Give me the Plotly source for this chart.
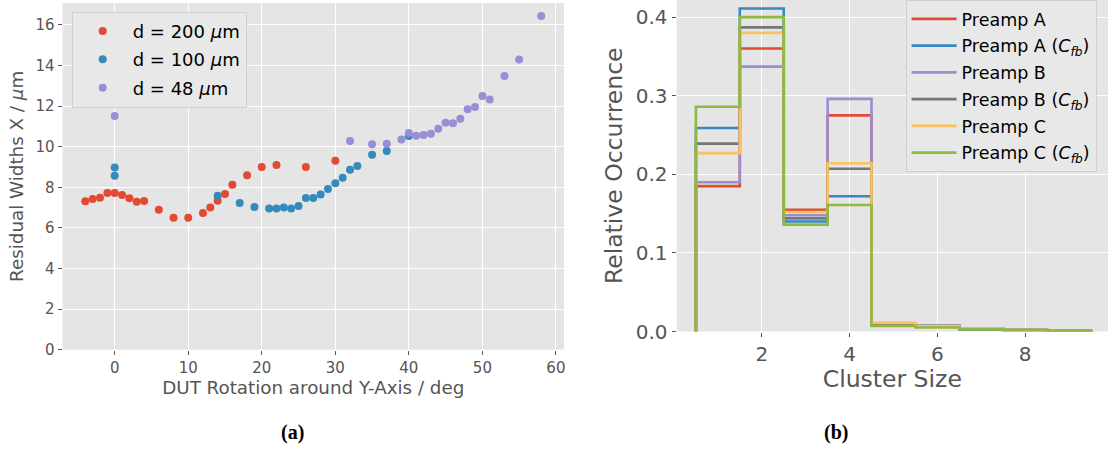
import plotly.graph_objects as go

# ---------------- data: panel (a) ----------------
red_x = [-4, -3, -2, -1, 0, 1, 2, 3, 4, 6, 8, 10, 12, 13, 14, 15, 16, 18, 20, 22, 26, 30]
red_y = [7.31, 7.42, 7.49, 7.72, 7.72, 7.62, 7.46, 7.29, 7.32, 6.90, 6.50, 6.50, 6.73, 7.01,
         7.34, 7.67, 8.13, 8.59, 9.00, 9.10, 9.00, 9.31]
blue_x = [0, 0, 14, 17, 19, 21, 22, 23, 24, 25, 26, 27, 28, 29, 30, 31, 32, 33, 35, 37, 40]
blue_y = [8.98, 8.57, 7.59, 7.23, 7.03, 6.95, 6.95, 7.00, 6.95, 7.08, 7.47, 7.47, 7.64, 7.92,
          8.20, 8.47, 8.87, 9.05, 9.60, 9.79, 10.53]
purple_x = [0, 32, 35, 37, 39, 40, 41, 42, 43, 44, 45, 46, 47, 48, 49, 50, 51, 53, 55, 58]
purple_y = [11.51, 10.28, 10.12, 10.15, 10.35, 10.67, 10.54, 10.58, 10.64, 10.89, 11.18, 11.15,
            11.38, 11.84, 11.96, 12.50, 12.33, 13.48, 14.30, 16.44]
series_a_names = ["d = 200 <i>μ</i>m", "d = 100 <i>μ</i>m", "d = 48 <i>μ</i>m"]

# ---------------- data: panel (b) ----------------
bin_edges = [0.5, 1.5, 2.5, 3.5, 4.5, 5.5, 6.5, 7.5, 8.5, 9.5]
preamp_a = [0.185, 0.360, 0.155, 0.275, 0.009, 0.007, 0.004, 0.002, 0.001]
preamp_a_cfb = [0.259, 0.411, 0.140, 0.172, 0.008, 0.006, 0.003, 0.002, 0.001]
preamp_b = [0.190, 0.337, 0.148, 0.296, 0.010, 0.008, 0.004, 0.002, 0.001]
preamp_b_cfb = [0.239, 0.387, 0.144, 0.207, 0.009, 0.007, 0.003, 0.002, 0.001]
preamp_c = [0.227, 0.380, 0.152, 0.214, 0.011, 0.007, 0.004, 0.002, 0.001]
preamp_c_cfb = [0.286, 0.400, 0.136, 0.161, 0.007, 0.005, 0.003, 0.002, 0.001]
hist_names = ["Preamp A", "Preamp A (<i>C</i><sub><i>fb</i></sub>)", "Preamp B",
              "Preamp B (<i>C</i><sub><i>fb</i></sub>)", "Preamp C",
              "Preamp C (<i>C</i><sub><i>fb</i></sub>)"]

colors = ["#E24A33", "#348ABD", "#988ED5", "#777777", "#FBC15E", "#8EBA42"]
FONT = "DejaVu Sans"
TXT = "#555555"

fig = go.Figure()

for i, (xs, ys, name, col) in enumerate(zip([red_x, blue_x, purple_x], [red_y, blue_y, purple_y],
                                            series_a_names, colors[:3])):
    fig.add_trace(go.Scatter(x=xs, y=ys, mode="markers", name=name,
                             marker=dict(color=col, size=8, line=dict(width=0)),
                             legendgroup=f"a{i}",
                             xaxis="x", yaxis="y", legend="legend"))

for i, (vals, name, col) in enumerate(zip([preamp_a, preamp_a_cfb, preamp_b, preamp_b_cfb,
                                           preamp_c, preamp_c_cfb], hist_names, colors)):
    xs = [bin_edges[0]] + bin_edges[:-1] + [bin_edges[-1], bin_edges[-1]]
    ys = [0] + vals + [vals[-1], 0]
    fig.add_trace(go.Scatter(x=xs, y=ys, mode="lines", name=name,
                             line=dict(color=col, width=2.6, shape="hv"),
                             legendgroup=f"b{i}",
                             xaxis="x2", yaxis="y2", legend="legend2"))

W, H = 1108, 450
axis_common = dict(showgrid=True, gridcolor="white", gridwidth=1.2, zeroline=False,
                   showline=False, ticks="outside", ticklen=4, tickcolor=TXT, automargin=False)

fig.update_layout(
    width=W, height=H,
    margin=dict(l=0, r=0, t=0, b=0),
    paper_bgcolor="white", plot_bgcolor="#E5E5E5",
    font=dict(family=FONT, color=TXT),
    xaxis=dict(domain=[62.5 / W, 564 / W], range=[-7.1, 61.1], tickvals=[0, 10, 20, 30, 40, 50, 60],
               title=dict(text="DUT Rotation around Y-Axis / deg", font=dict(size=18.3, color=TXT), standoff=2),
               anchor="y", tickfont=dict(family=FONT, color=TXT, size=15), **axis_common),
    yaxis=dict(domain=[(H - 349.7) / H, (H - 3) / H], range=[0, 17.08], tickvals=list(range(0, 17, 2)),
               title=dict(text="Residual Widths X / <i>μ</i>m", font=dict(size=18.3, color=TXT), standoff=6),
               anchor="x", tickfont=dict(family=FONT, color=TXT, size=15), **axis_common),
    xaxis2=dict(domain=[676.6 / W, 1.0], range=[0.06, 9.886], tickvals=[2, 4, 6, 8],
                title=dict(text="Cluster Size", font=dict(size=23.5, color=TXT), standoff=2),
                anchor="y2", tickfont=dict(family=FONT, color=TXT, size=20), **axis_common),
    yaxis2=dict(domain=[(H - 331.5) / H, 1.0], range=[0, 0.4218], tickvals=[0, 0.1, 0.2, 0.3, 0.4],
                tickformat=".1f",
                title=dict(text="Relative Occurrence", font=dict(size=23.5, color=TXT), standoff=6),
                anchor="x2", tickfont=dict(family=FONT, color=TXT, size=20), **axis_common),
    legend=dict(x=71.7 / W, y=1 - 11.7 / H, xanchor="left", yanchor="top",
                bgcolor="#E8E8E8", bordercolor="#D0D0D0", borderwidth=1,
                itemwidth=50, traceorder="grouped", tracegroupgap=2,
                font=dict(family=FONT, size=18, color="black")),
    legend2=dict(x=905.6 / W, y=1, xanchor="left", yanchor="top",
                 bgcolor="#E8E8E8", bordercolor="#D0D0D0", borderwidth=1,
                 itemwidth=45, traceorder="grouped", tracegroupgap=1,
                 font=dict(family=FONT, size=17.5, color="black")),
    annotations=[
        dict(text="<b>(a)</b>", x=292 / W, y=1 - 432 / H, xref="paper", yref="paper",
             showarrow=False, font=dict(family="Liberation Serif", size=20, color="black"),
             xanchor="center", yanchor="middle"),
        dict(text="<b>(b)</b>", x=836 / W, y=1 - 432 / H, xref="paper", yref="paper",
             showarrow=False, font=dict(family="Liberation Serif", size=20, color="black"),
             xanchor="center", yanchor="middle"),
    ],
)

fig.write_html("out.html", config={"displayModeBar": False},
               post_script="document.body.style.margin='0px';")
